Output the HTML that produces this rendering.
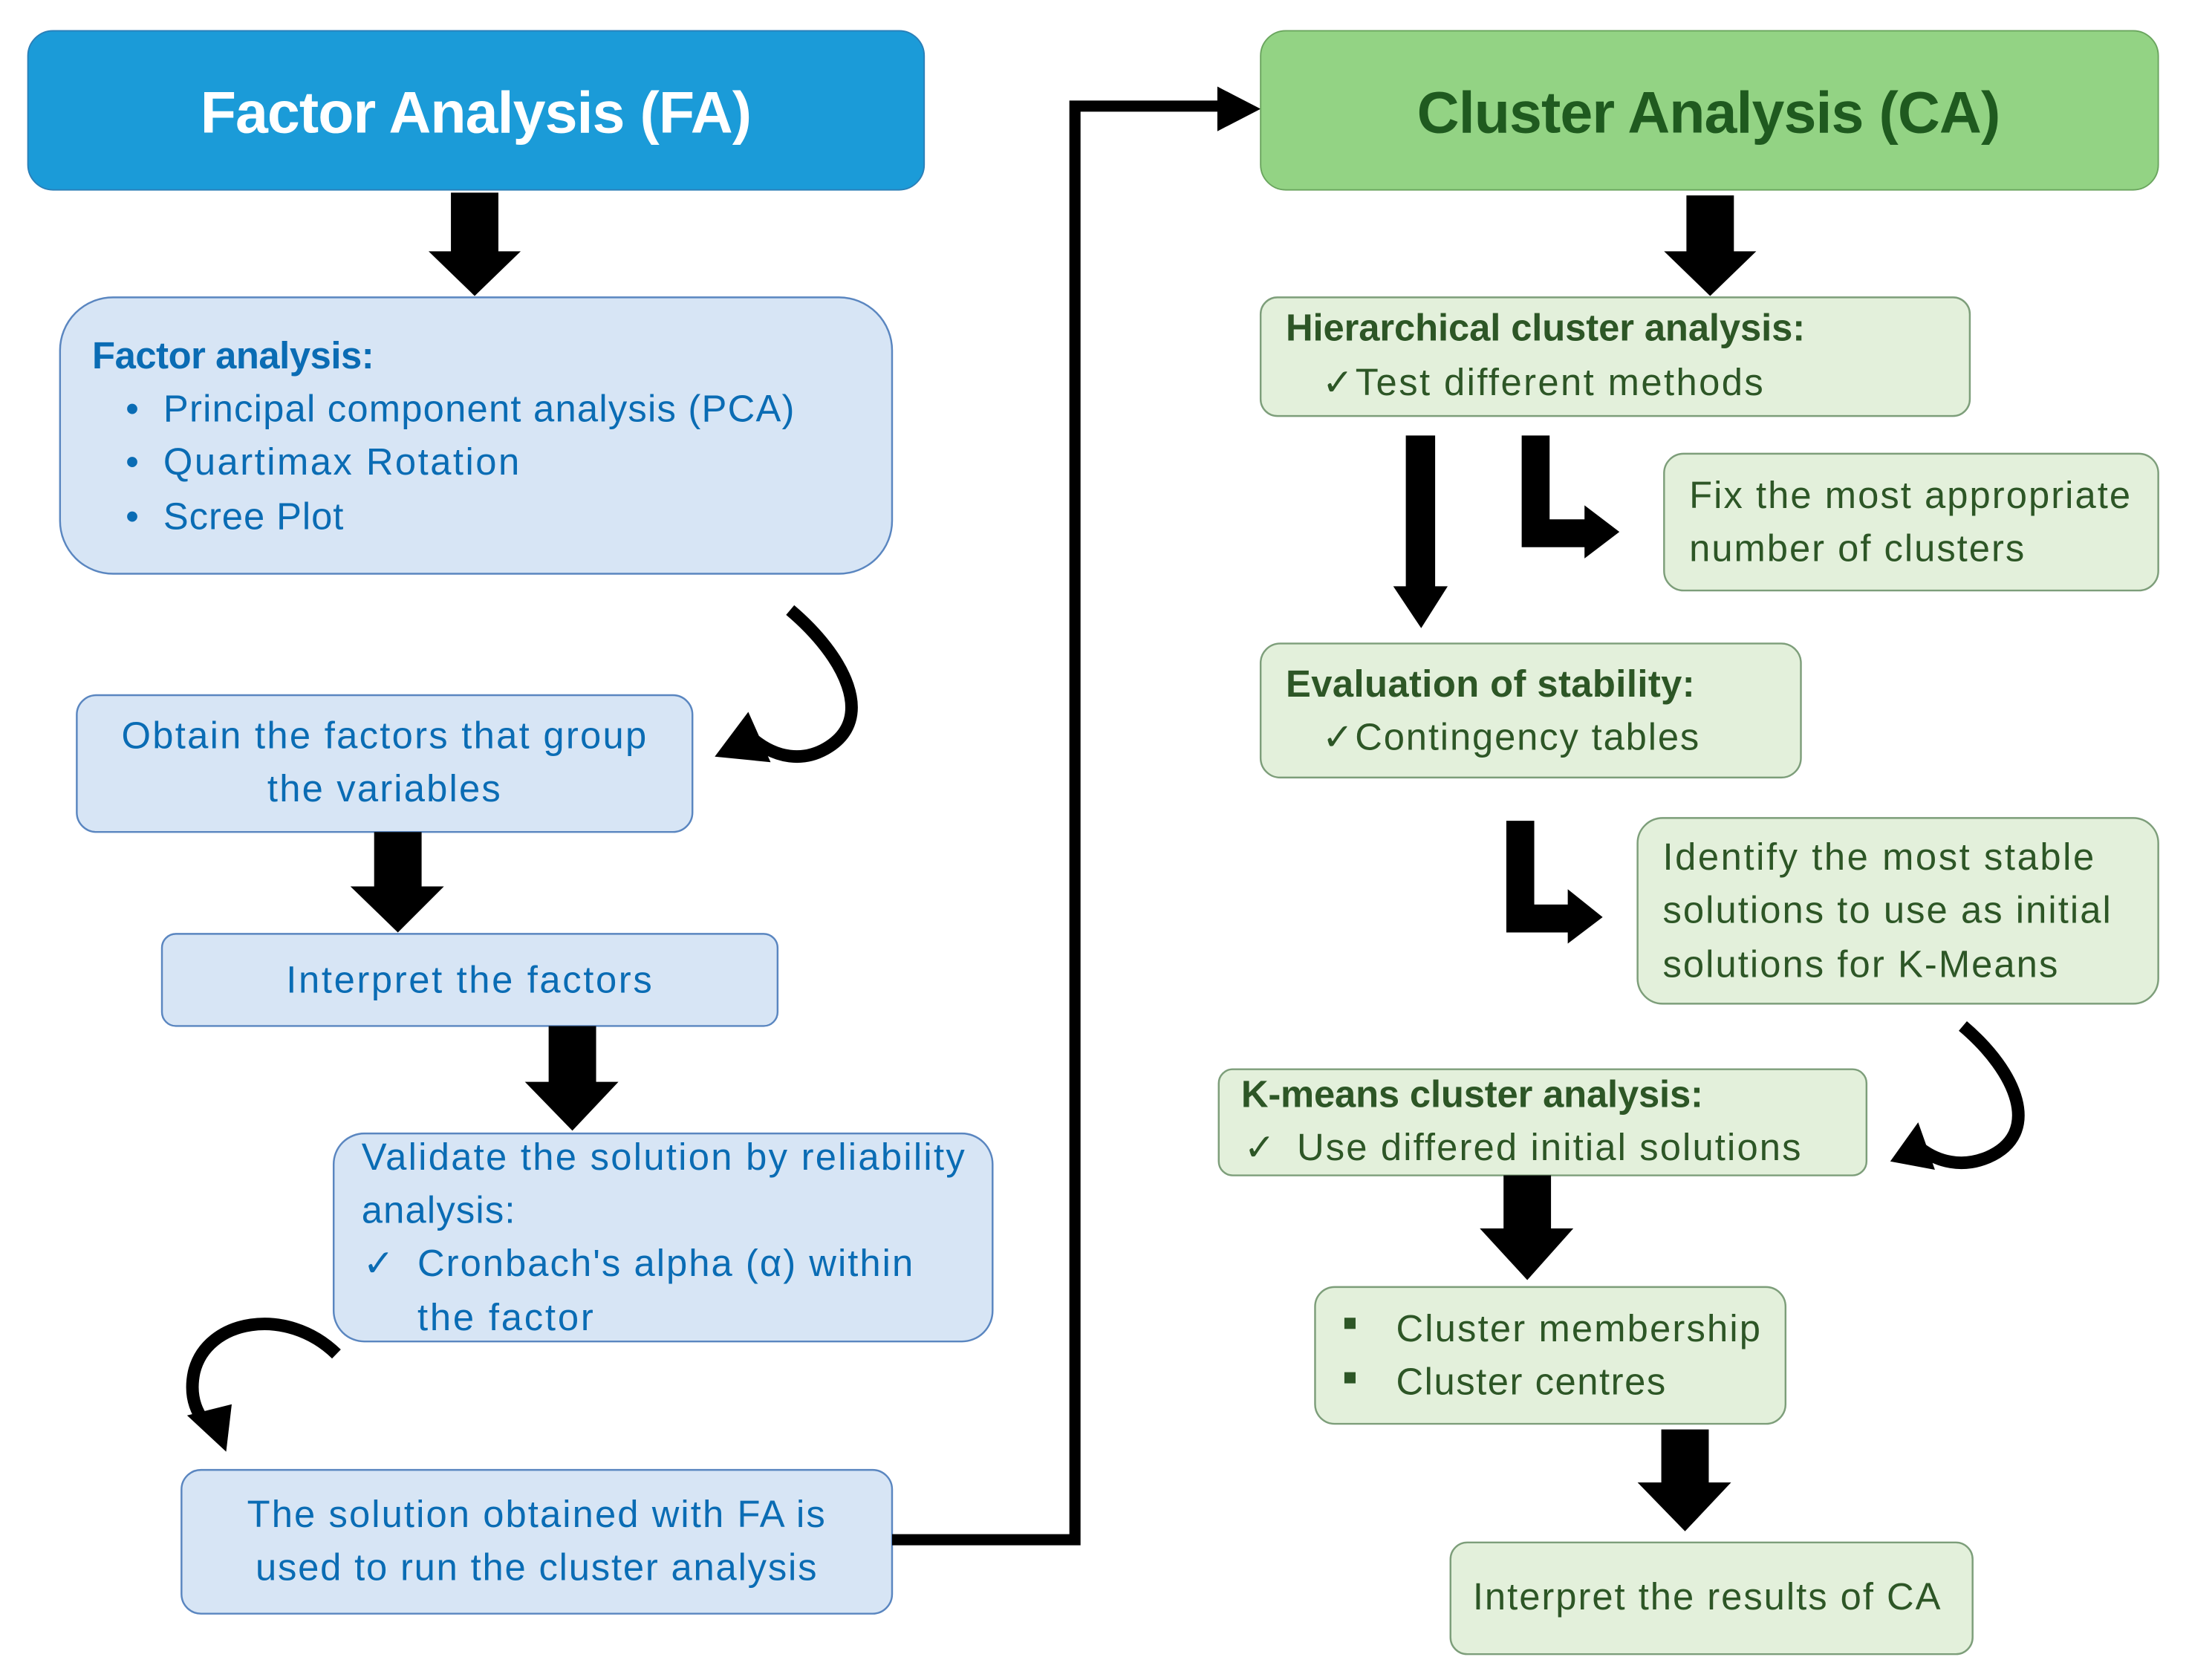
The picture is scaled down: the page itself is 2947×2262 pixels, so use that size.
<!DOCTYPE html>
<html><head><meta charset="utf-8"><style>
html,body{margin:0;padding:0;background:#fff;}
svg{display:block;}
text{font-family:"Liberation Sans Narrow","Liberation Sans",sans-serif;}
.b{fill:#0a6cb4;font-size:27px;}
.g{fill:#2d5626;font-size:27px;}
.bx{fill:#d7e5f5;stroke:#5a86c0;stroke-width:1.3;}
.gx{fill:#e3f0db;stroke:#7d9e7a;stroke-width:1.3;}
</style></head><body>
<svg width="2947" height="2262" viewBox="0 0 1568 1203.5" xmlns="http://www.w3.org/2000/svg">
<rect width="1570" height="1205" fill="#fff"/>
<!-- FA header -->
<rect x="20" y="22" width="642" height="114" rx="18" fill="#1b9bd8" stroke="#2a7fb8" stroke-width="1"/>
<text x="341" y="95" text-anchor="middle" font-size="42" font-weight="bold" fill="#fff" textLength="395" style="font-family:'Liberation Sans',sans-serif">Factor Analysis (FA)</text>
<polygon points="323,138 357,138 357,180 373,180 340,212 307,180 323,180" fill="#000"/>
<!-- FA box -->
<rect class="bx" x="43" y="213" width="596" height="198" rx="38"/>
<text class="b" x="66" y="264" font-weight="bold" textLength="202">Factor analysis:</text>
<text class="b" x="90" y="302">•</text><text class="b" x="117" y="302" textLength="452">Principal component analysis (PCA)</text>
<text class="b" x="90" y="340">•</text><text class="b" x="117" y="340" textLength="255">Quartimax Rotation</text>
<text class="b" x="90" y="379">•</text><text class="b" x="117" y="379" textLength="129">Scree Plot</text>
<!-- curve 1 -->
<path d="M566,437 C605,470 628,515 592,536 C575,546 556,543 540,530" fill="none" stroke="#000" stroke-width="9"/>
<polygon points="536,510 552,546 512,542" fill="#000"/>
<!-- Obtain -->
<rect class="bx" x="55" y="498" width="441" height="98" rx="14"/>
<text class="b" x="275" y="536" text-anchor="middle" textLength="376">Obtain the factors that group</text>
<text class="b" x="275" y="574" text-anchor="middle" textLength="167">the variables</text>
<polygon points="268,596 302,596 302,635 318,635 285,668 251,635 268,635" fill="#000"/>
<!-- Interpret factors -->
<rect class="bx" x="116" y="669" width="441" height="66" rx="10"/>
<text class="b" x="336" y="711" text-anchor="middle" textLength="262">Interpret the factors</text>
<polygon points="393,735 427,735 427,775 443,775 410,810 376,775 393,775" fill="#000"/>
<!-- Validate -->
<rect class="bx" x="239" y="812" width="472" height="149" rx="22"/>
<text class="b" x="259" y="838" textLength="432">Validate the solution by reliability</text>
<text class="b" x="259" y="876" textLength="110">analysis:</text>
<text class="b" x="260" y="914">✓</text><text class="b" x="299" y="914" textLength="355">Cronbach's alpha (α) within</text>
<text class="b" x="299" y="953" textLength="126">the factor</text>
<!-- curve 2 -->
<path d="M241,970 C205,935 148,945 139,983 C135,1002 142,1015 150,1022" fill="none" stroke="#000" stroke-width="9"/>
<polygon points="134,1014 166,1006 162,1040" fill="#000"/>
<!-- Solution -->
<rect class="bx" x="130" y="1053" width="509" height="103" rx="14"/>
<text class="b" x="384" y="1094" text-anchor="middle" textLength="414">The solution obtained with FA is</text>
<text class="b" x="384" y="1132" text-anchor="middle" textLength="402">used to run the cluster analysis</text>
<!-- connector -->
<polyline points="639,1103 770,1103 770,76 880,76" fill="none" stroke="#000" stroke-width="8"/>
<polygon points="872,62 903,78 872,94" fill="#000"/>
<!-- CA header -->
<rect x="903" y="22" width="643" height="114" rx="18" fill="#93d384" stroke="#6aa55e" stroke-width="1"/>
<text x="1224" y="95" text-anchor="middle" font-size="42" font-weight="bold" fill="#1f5a1f" textLength="418" style="font-family:'Liberation Sans',sans-serif">Cluster Analysis (CA)</text>
<polygon points="1208,140 1242,140 1242,180 1258,180 1225,212 1192,180 1208,180" fill="#000"/>
<!-- Hier -->
<rect class="gx" x="903" y="213" width="508" height="85" rx="12"/>
<text class="g" x="921" y="244" font-weight="bold" textLength="372">Hierarchical cluster analysis:</text>
<text class="g" x="947" y="283" textLength="316">✓Test different methods</text>
<polygon points="1007,312 1028,312 1028,420 1037,420 1018,450 998,420 1007,420" fill="#000"/>
<polygon points="1090,312 1110,312 1110,372 1135,372 1135,362 1160,381 1135,400 1135,392 1090,392" fill="#000"/>
<!-- Fix -->
<rect class="gx" x="1192" y="325" width="354" height="98" rx="14"/>
<text class="g" x="1210" y="364" textLength="316">Fix the most appropriate</text>
<text class="g" x="1210" y="402" textLength="240">number of clusters</text>
<!-- Eval -->
<rect class="gx" x="903" y="461" width="387" height="96" rx="14"/>
<text class="g" x="921" y="499" font-weight="bold" textLength="293">Evaluation of stability:</text>
<text class="g" x="947" y="537" textLength="270">✓Contingency tables</text>
<polygon points="1079,588 1099,588 1099,648 1123,648 1123,637 1148,657 1123,676 1123,668 1079,668" fill="#000"/>
<!-- Identify -->
<rect class="gx" x="1173" y="586" width="373" height="133" rx="18"/>
<text class="g" x="1191" y="623" textLength="309">Identify the most stable</text>
<text class="g" x="1191" y="661" textLength="321">solutions to use as initial</text>
<text class="g" x="1191" y="700" textLength="283">solutions for K-Means</text>
<!-- curve 3 -->
<path d="M1406,735 C1445,768 1463,812 1424,829 C1405,837 1388,832 1376,823" fill="none" stroke="#000" stroke-width="9"/>
<polygon points="1374,804 1386,838 1354,832" fill="#000"/>
<!-- Kmeans -->
<rect class="gx" x="873" y="766" width="464" height="76" rx="10"/>
<text class="g" x="889" y="793" font-weight="bold" textLength="331">K-means cluster analysis:</text>
<text class="g" x="891" y="831">✓</text><text class="g" x="929" y="831" textLength="361">Use differed initial solutions</text>
<polygon points="1077,842 1111,842 1111,880 1127,880 1094,917 1060,880 1077,880" fill="#000"/>
<!-- Cluster -->
<rect class="gx" x="942" y="922" width="337" height="98" rx="14"/>
<rect x="963" y="944" width="8" height="8" fill="#2d5626"/>
<rect x="963" y="983" width="8" height="8" fill="#2d5626"/>
<text class="g" x="1000" y="961" textLength="261">Cluster membership</text>
<text class="g" x="1000" y="999" textLength="193">Cluster centres</text>
<polygon points="1190,1024 1224,1024 1224,1062 1240,1062 1207,1097 1173,1062 1190,1062" fill="#000"/>
<!-- Interpret CA -->
<rect class="gx" x="1039" y="1105" width="374" height="80" rx="12"/>
<text class="g" x="1055" y="1153" textLength="335">Interpret the results of CA</text>
</svg>
</body></html>
